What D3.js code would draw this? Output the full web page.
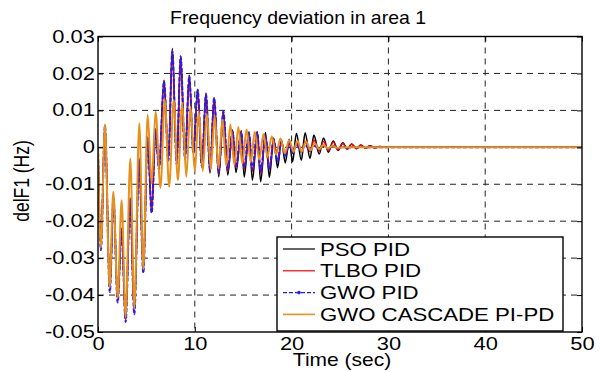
<!DOCTYPE html>
<html>
<head>
<meta charset="utf-8">
<script src="https://cdn.jsdelivr.net/npm/d3@7/dist/d3.min.js"></script>
<style>
    body { margin: 0; background: #fff; }
    svg { display: block; }
    text { font-family: "Liberation Sans", Arial, sans-serif; fill: #000; }
</style>
</head>
<body>
<div class="chart_global"></div>
<script>
// время (сек) экстремумов для PID-регуляторов
const timePid = [0, 0.3, 0.72, 1.22, 1.6, 2.03, 2.44, 2.85, 3.32, 3.75, 4.25, 4.68, 5.13, 5.54, 5.95, 6.3,
    6.82, 7.27, 7.68, 8.13, 8.54, 8.99, 9.43, 9.85, 10.3, 10.72, 11.16, 11.57, 12.0, 12.47, 12.95, 13.4,
    13.9, 14.25, 14.8, 15.1, 15.6, 15.95, 16.45, 16.8, 17.3, 17.7, 18.15, 18.55, 18.95, 19.35, 19.75, 20.1,
    20.5, 21.0, 21.4, 21.9, 22.3, 22.85, 23.3, 23.8, 24.3, 24.8, 25.3, 25.75, 26.2, 26.7, 27.15, 27.65,
    28.1, 28.6, 29.1, 30, 50]

const psoPid = [0, -0.0275, 0.006, -0.0388, -0.0136, -0.0416, -0.0219, -0.047, -0.0137, -0.0449, -0.003, -0.0337, 0.0028, -0.0175, 0.005, -0.0057,
    0.0182, -0.0034, 0.0268, -0.0043, 0.0248, -0.003, 0.0195, -0.0015, 0.0157, -0.0054, 0.0147, -0.007, 0.0135, -0.008, 0.0097, -0.0075,
    0.0047, -0.0068, 0.0045, -0.008, 0.0042, -0.0089, 0.0043, -0.0093, 0.004, -0.0081, 0.0025, -0.0055, 0.002, -0.0042, 0.0022, -0.0039,
    0.0038, -0.0035, 0.0039, -0.003, 0.0033, -0.0018, 0.0025, -0.0013, 0.0017, -0.0008, 0.0012, -0.0005, 0.0009, -0.0003, 0.0006, -0.0002,
    0.0004, -0.0001, 0.0002, 0, 0]

const tlboPid = [0, -0.0277, 0.0059, -0.039, -0.0137, -0.0418, -0.022, -0.0471, -0.0139, -0.045, -0.0032, -0.0339, 0.0026, -0.0177, 0.0048, -0.0059,
    0.018, -0.0035, 0.0263, -0.0044, 0.0246, -0.0031, 0.0194, -0.0016, 0.0156, -0.0052, 0.0145, -0.0066, 0.0134, -0.0074, 0.0097, -0.0066,
    0.0044, -0.0055, 0.0042, -0.006, 0.0038, -0.0065, 0.004, -0.007, 0.0032, -0.006, 0.0022, -0.0038, 0.0016, -0.0022, 0.0012, -0.0012,
    0.0013, -0.0011, 0.0016, -0.0011, 0.0019, -0.001, 0.0016, -0.0009, 0.0014, -0.0007, 0.0011, -0.0005, 0.0009, -0.0004, 0.0006, -0.0003,
    0.0004, -0.0002, 0.0002, 0, 0]

const gwoPid = [0, -0.0278, 0.0058, -0.0392, -0.0138, -0.042, -0.0222, -0.0473, -0.014, -0.0452, -0.0033, -0.034, 0.0025, -0.0178, 0.0047, -0.006,
    0.0178, -0.0036, 0.026, -0.0045, 0.0245, -0.0032, 0.0193, -0.0016, 0.0155, -0.005, 0.0143, -0.0062, 0.0133, -0.0068, 0.0097, -0.006,
    0.0042, -0.005, 0.004, -0.0055, 0.0037, -0.006, 0.004, -0.0065, 0.003, -0.0058, 0.002, -0.0038, 0.0015, -0.0025, 0.0012, -0.0016,
    0.0009, -0.0012, 0.0007, -0.0009, 0.0005, -0.0006, 0.0004, -0.0004, 0.0003, -0.0003, 0.0002, -0.0002, 0.0001, -0.0001, 0.0001, 0,
    0, 0, 0, 0, 0]

// каскадный PI-PD имеет свою фазу
const timeCascade = [0, 0.3, 0.72, 1.2, 1.58, 2.03, 2.44, 2.85, 3.34, 3.75, 4.27, 4.68, 5.13, 5.54, 5.95, 6.45,
    6.9, 7.35, 7.82, 8.25, 8.7, 9.12, 9.55, 10.0, 10.4, 10.82, 11.25, 11.65, 12.05, 12.45, 12.85, 13.25,
    13.68, 14.08, 14.5, 14.9, 15.35, 15.78, 16.2, 16.65, 17.1, 17.5, 17.95, 18.4, 18.85, 19.3, 19.75, 20.2,
    20.6, 21.05, 21.5, 21.95, 22.4, 22.85, 23.3, 23.75, 24.2, 24.7, 26, 50]

const gwoCascade = [0, -0.0272, 0.0062, -0.038, -0.012, -0.0408, -0.0143, -0.046, -0.003, -0.0438, 0.0065, -0.033, 0.0088, -0.0098, 0.0096, -0.011,
    0.0128, -0.0107, 0.0128, -0.0089, 0.012, -0.008, 0.011, -0.0066, 0.0098, -0.0064, 0.009, -0.006, 0.0084, -0.0057, 0.0074, -0.005,
    0.0062, -0.0047, 0.0055, -0.0043, 0.0048, -0.004, 0.0042, -0.0033, 0.0036, -0.0026, 0.003, -0.002, 0.0024, -0.0016, 0.002, -0.0012,
    0.0018, -0.0012, 0.0016, -0.0008, 0.0011, -0.0005, 0.0006, -0.0003, 0.0003, -0.0001, 0, 0]

const xTicks = [0, 10, 20, 30, 40, 50]
const yTicks = [-0.05, -0.04, -0.03, -0.02, -0.01, 0, 0.01, 0.02, 0.03]
const seriesNames = ['PSO PID', 'TLBO PID', 'GWO PID', 'GWO CASCADE PI-PD']
const seriesColors = ['#000000', '#ff0000', '#1c1cff', '#e8901c']

// размеры (top занят window.top, поэтому свои имена)
var width = 601
var height = 372
var plotL = 98, plotR = 582, plotT = 36.5, plotB = 332

var svg = d3.select('.chart_global')
    .append('svg')
    .attr('width', width)
    .attr('height', height)

var xScale = d3.scaleLinear().domain([0, 50]).range([plotL, plotR])
var yScale = d3.scaleLinear().domain([-0.05, 0.03]).range([plotB, plotT])

// сетка пунктиром
svg.append('g')
    .selectAll('line')
    .data(xTicks.slice(1, -1))
    .enter()
    .append('line')
    .attr('x1', d => xScale(d)).attr('x2', d => xScale(d))
    .attr('y1', plotT).attr('y2', plotB)
    .attr('stroke', '#222').attr('stroke-dasharray', '6,5')

svg.append('g')
    .selectAll('line')
    .data(yTicks.slice(1, -1))
    .enter()
    .append('line')
    .attr('y1', d => yScale(d)).attr('y2', d => yScale(d))
    .attr('x1', plotL).attr('x2', plotR)
    .attr('stroke', '#222').attr('stroke-dasharray', '6,5')

svg.append('clipPath').attr('id', 'clip')
    .append('rect')
    .attr('x', plotL).attr('y', plotT)
    .attr('width', plotR - plotL).attr('height', plotB - plotT)

// линии
var line = d3.line()
    .x(d => xScale(d[0]))
    .y(d => yScale(d[1]))
    .curve(d3.curveMonotoneX)

const series = [
    { name: seriesNames[0], t: timePid, v: psoPid, w: 1.6, dash: null },
    { name: seriesNames[1], t: timePid, v: tlboPid, w: 1.4, dash: null },
    { name: seriesNames[2], t: timePid, v: gwoPid, w: 2, dash: '4,2' },
    { name: seriesNames[3], t: timeCascade, v: gwoCascade, w: 2, dash: null }
]

var plot = svg.append('g').attr('clip-path', 'url(#clip)')
series.forEach((s, i) => {
    plot.append('path')
        .attr('d', line(s.t.map((t, k) => [t, s.v[k]])))
        .attr('fill', 'none')
        .attr('stroke', seriesColors[i])
        .attr('stroke-width', s.w)
        .attr('stroke-dasharray', s.dash)
        .attr('stroke-linejoin', 'round')
})

// оси
var fmtY = d => d === 0 ? '0' : d.toFixed(2)

var gx = svg.append('g')
    .attr('transform', 'translate(0,' + plotB + ')')
    .call(d3.axisBottom(xScale).tickValues(xTicks).tickSize(-5).tickPadding(5.5))
gx.select('.domain').remove()
gx.selectAll('text').attr('font-size', 17.5).attr('transform', 'scale(1.25,1)')

var gy = svg.append('g')
    .attr('transform', 'translate(' + plotL + ',0)')
    .call(d3.axisLeft(yScale).tickValues(yTicks).tickFormat(fmtY).tickSize(-5).tickPadding(2.5))
gy.select('.domain').remove()
gy.selectAll('text').attr('font-size', 17.5).attr('transform', 'scale(1.25,1)')

var gt = svg.append('g')
    .attr('transform', 'translate(0,' + plotT + ')')
    .call(d3.axisTop(xScale).tickValues(xTicks).tickSize(-5).tickFormat(''))
gt.select('.domain').remove()

var gr = svg.append('g')
    .attr('transform', 'translate(' + plotR + ',0)')
    .call(d3.axisRight(yScale).tickValues(yTicks).tickSize(-5).tickFormat(''))
gr.select('.domain').remove()

svg.selectAll('.tick line').attr('stroke', '#000')

svg.append('rect')
    .attr('x', plotL).attr('y', plotT)
    .attr('width', plotR - plotL).attr('height', plotB - plotT)
    .attr('fill', 'none').attr('stroke', '#000').attr('stroke-width', 1.4)

// подписи
svg.append('text')
    .attr('transform', 'translate(298,24) scale(1.08,1)')
    .attr('text-anchor', 'middle')
    .attr('font-size', 18)
    .text('Frequency deviation in area 1')

svg.append('text')
    .attr('transform', 'translate(342,366) scale(1.2,1)')
    .attr('text-anchor', 'middle')
    .attr('font-size', 17.5)
    .text('Time (sec)')

svg.append('text')
    .attr('transform', 'translate(29,181) rotate(-90) scale(1,1.25)')
    .attr('text-anchor', 'middle')
    .attr('font-size', 17.5)
    .text('delF1 (Hz)')

// легенда
var legend = svg.append('g')
legend.append('rect')
    .attr('x', 277).attr('y', 237)
    .attr('width', 286).attr('height', 94)
    .attr('fill', '#fff').attr('stroke', '#000').attr('stroke-width', 1.4)

series.forEach((s, i) => {
    var cy = 249 + i * 21.8
    legend.append('line')
        .attr('x1', 283).attr('x2', 315)
        .attr('y1', cy).attr('y2', cy)
        .attr('stroke', seriesColors[i])
        .attr('stroke-width', i === 3 ? 1.6 : 1.2)
        .attr('stroke-dasharray', s.dash)
    if (s.dash) {
        legend.append('circle')
            .attr('cx', 299).attr('cy', cy).attr('r', 1.8)
            .attr('fill', seriesColors[i])
    }
    legend.append('text')
        .attr('transform', 'translate(320,' + (cy + 6.5) + ') scale(1.2,1)')
        .attr('font-size', 18.5)
        .text(s.name)
})
</script>
</body>
</html>
